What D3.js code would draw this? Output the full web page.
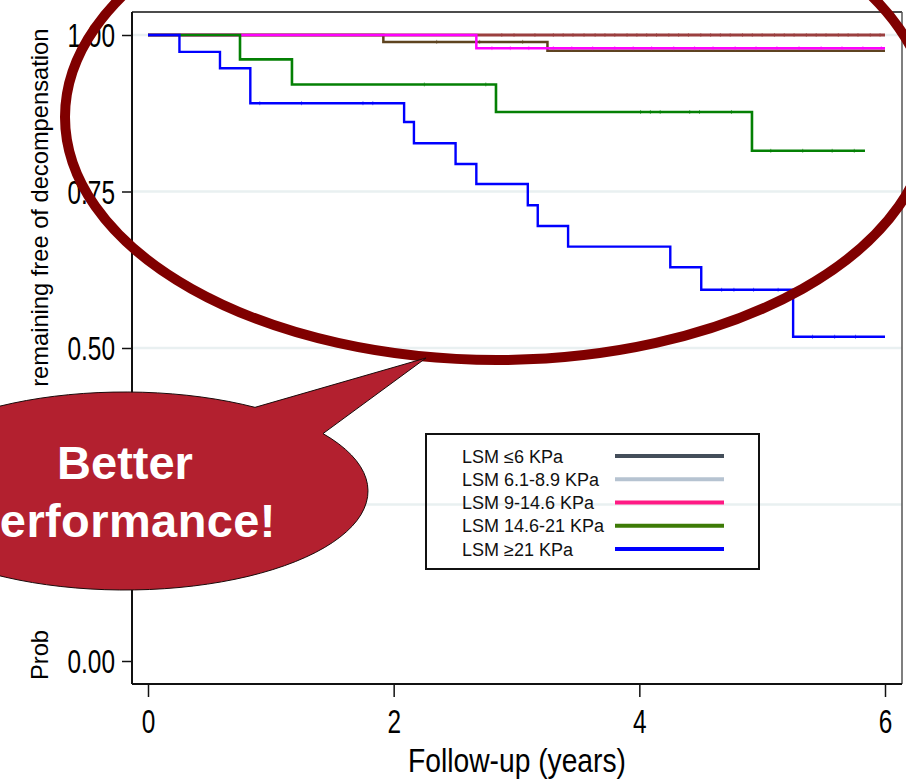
<!DOCTYPE html>
<html>
<head>
<meta charset="utf-8">
<script src="https://cdn.jsdelivr.net/npm/d3@7"></script>
<style>
  html, body { margin: 0; padding: 0; background: #ffffff; }
  svg { display: block; }
</style>
</head>
<body>
<svg id="chart" width="906" height="780"></svg>
<script>
// ---------------- data ----------------
const xTickValues = [0, 2, 4, 6];
const xTickLabels = ["0", "2", "4", "6"];
const yTickValues = [0, 0.25, 0.5, 0.75, 1.0];
const yTickLabels = ["0.00", "0.25", "0.50", "0.75", "1.00"];
const xTitle = "Follow-up (years)";
const yTitleParts = ["Prob", "ability", " remaining free of decompensation"];

// Kaplan–Meier step curves as drawn in the plot (time in years, survival)
const curveRedTimes = [0, 6.0];
const curveRedSurv = [1.0, 1.0];
const curveRedCensor = [2.88, 2.98, 3.15, 3.30, 3.38, 3.46, 3.55, 3.64, 3.72, 3.80, 3.90, 3.98, 4.06, 4.14, 4.24, 4.32, 4.40, 4.50, 4.58, 4.66, 4.74, 4.84, 4.92, 5.00, 5.10, 5.18, 5.26, 5.36, 5.44, 5.52, 5.62, 5.70, 5.78, 5.88, 5.96];

const curveBrownTimes = [0, 1.916, 3.252, 6.0];
const curveBrownSurv = [1.0, 0.989, 0.975, 0.975];
const curveBrownCensor = [2.35, 2.70, 3.05];

const curveMagentaTimes = [0, 2.673, 6.0];
const curveMagentaSurv = [1.0, 0.979, 0.979];
const curveMagentaCensor = [2.80, 2.95, 3.10, 3.30, 3.45, 3.62, 3.80, 3.95, 4.10, 4.28, 4.45, 4.60, 4.78, 4.95, 5.12, 5.30, 5.48, 5.65, 5.82, 5.97];

const curveGreenTimes = [0, 0.749, 1.172, 2.833, 4.917, 5.837];
const curveGreenSurv = [1.0, 0.961, 0.921, 0.877, 0.815, 0.815];
const curveGreenCensor = [2.25, 2.75, 4.01, 4.09, 4.17, 4.41, 4.49, 4.75, 5.07, 5.33, 5.57, 5.75];

const curveBlueTimes = [0, 0.256, 0.586, 0.833, 2.085, 2.165, 2.504, 2.673, 3.092, 3.173, 3.420, 4.252, 4.504, 5.252, 6.0];
const curveBlueSurv = [1.0, 0.973, 0.947, 0.891, 0.861, 0.827, 0.794, 0.762, 0.728, 0.695, 0.662, 0.629, 0.593, 0.518, 0.518];
const curveBlueCensor = [0.91, 1.25, 1.75, 1.83, 4.67, 4.77, 4.93, 5.13, 5.41, 5.59, 5.76];

// legend (as shown in the picture)
const legendLabels = ["LSM \u22646 KPa", "LSM 6.1-8.9 KPa", "LSM 9-14.6 KPa", "LSM 14.6-21 KPa", "LSM \u226521 KPa"];
const legendColors = ["#444e5a", "#b6c3d1", "#ff1a84", "#3d7b06", "#0000ff"];

// annotation
const bubbleLines = ["Better", "Performance!"];

// ---------------- drawing ----------------
const svg = d3.select("#chart");
const W = 906, H = 780;
const frame = {left: 132, top: 12, right: 902, bottom: 684};

const x = d3.scaleLinear().domain([0, 6]).range([148, 885]);
const y = d3.scaleLinear().domain([0, 1]).range([661, 35]);

svg.append("rect").attr("width", W).attr("height", H).attr("fill", "#ffffff");

// gridlines
svg.append("g").selectAll("line")
  .data(yTickValues.filter(v => v > 0))
  .join("line")
  .attr("x1", frame.left).attr("x2", frame.right)
  .attr("y1", d => y(d)).attr("y2", d => y(d))
  .attr("stroke", "#e9f0f1").attr("stroke-width", 2.5);

// frame
svg.append("line").attr("x1", frame.left).attr("x2", frame.right).attr("y1", frame.top).attr("y2", frame.top)
  .attr("stroke", "#111").attr("stroke-width", 1.5);
svg.append("line").attr("x1", frame.right).attr("x2", frame.right).attr("y1", frame.top).attr("y2", frame.bottom)
  .attr("stroke", "#555").attr("stroke-width", 1.5);
svg.append("line").attr("x1", frame.left).attr("x2", frame.right).attr("y1", frame.bottom).attr("y2", frame.bottom)
  .attr("stroke", "#111").attr("stroke-width", 2);
svg.append("line").attr("x1", frame.left).attr("x2", frame.left).attr("y1", frame.top).attr("y2", frame.bottom)
  .attr("stroke", "#111").attr("stroke-width", 2);

// curves
const stepLine = d3.line().x(d => x(d[0])).y(d => y(d[1])).curve(d3.curveStepAfter);
const curves = [
  {t: curveRedTimes, s: curveRedSurv, c: curveRedCensor, color: "#9b3f3f", w: 3},
  {t: curveBrownTimes, s: curveBrownSurv, c: curveBrownCensor, color: "#5e4420", w: 2.5},
  {t: curveMagentaTimes, s: curveMagentaSurv, c: curveMagentaCensor, color: "#ff00ff", w: 2.5},
  {t: curveGreenTimes, s: curveGreenSurv, c: curveGreenCensor, color: "#048004", w: 2.6},
  {t: curveBlueTimes, s: curveBlueSurv, c: curveBlueCensor, color: "#0000ff", w: 2.4}
];
function survAt(cv, t) {
  let v = cv.s[0];
  for (let i = 0; i < cv.t.length; i++) if (cv.t[i] <= t) v = cv.s[i];
  return v;
}
const gCurves = svg.append("g").attr("fill", "none");
curves.forEach(cv => {
  const pts = cv.t.map((t, i) => [t, cv.s[i]]);
  gCurves.append("path").attr("d", stepLine(pts))
    .attr("stroke", cv.color).attr("stroke-width", cv.w)
    .attr("stroke-linejoin", "miter").attr("stroke-linecap", "butt");
  gCurves.append("g").selectAll("line").data(cv.c).join("line")
    .attr("x1", d => x(d)).attr("x2", d => x(d))
    .attr("y1", d => y(survAt(cv, d)) - 2).attr("y2", d => y(survAt(cv, d)) + 2)
    .attr("stroke", cv.color).attr("stroke-width", 0.8).attr("stroke-opacity", 0.7);
});

// axes
const tickFont = "'Liberation Sans', Arial, Helvetica, sans-serif";
const sxTick = 0.74;
const xAxis = d3.axisBottom(x).tickValues(xTickValues).tickFormat((d, i) => xTickLabels[i])
  .tickSize(12).tickPadding(0);
const gx = svg.append("g").attr("transform", `translate(0,${frame.bottom + 1})`).call(xAxis);
gx.select(".domain").remove();
gx.selectAll(".tick line").attr("stroke", "#111").attr("stroke-width", 1.5);
gx.selectAll(".tick text")
  .attr("font-family", tickFont).attr("font-size", 33).attr("fill", "#000")
  .attr("y", 0).attr("dy", 0)
  .attr("transform", `translate(0,48) scale(${sxTick},1)`);

const yAxis = d3.axisLeft(y).tickValues(yTickValues).tickFormat((d, i) => yTickLabels[i])
  .tickSize(9).tickPadding(0);
const gy = svg.append("g").attr("transform", `translate(${frame.left - 1},0)`).call(yAxis);
gy.select(".domain").remove();
gy.selectAll(".tick line").attr("stroke", "#111").attr("stroke-width", 1.5);
gy.selectAll(".tick text")
  .attr("font-family", tickFont).attr("font-size", 33).attr("fill", "#000")
  .attr("x", 0).attr("dy", "0.36em")
  .attr("transform", `translate(-16,0) scale(${sxTick},1)`);

// axis titles
svg.append("text")
  .attr("transform", `translate(517,772) scale(0.83,1)`)
  .attr("text-anchor", "middle")
  .attr("font-family", tickFont).attr("font-size", 34).attr("fill", "#000")
  .text(xTitle);

const yTitle = svg.append("text")
  .attr("transform", "translate(48,680) rotate(-90)")
  .attr("text-anchor", "start")
  .attr("font-family", tickFont).attr("font-size", 23.7).attr("fill", "#000");
const yTitleDx = [0, 166, 10];
yTitleParts.forEach((p, i) => {
  yTitle.append("tspan").attr("dx", yTitleDx[i]).text(p);
});

// legend
const lg = svg.append("g");
lg.append("rect").attr("x", 426).attr("y", 434).attr("width", 333).attr("height", 135)
  .attr("fill", "none").attr("stroke", "#111").attr("stroke-width", 2);
const rowY = d3.scalePoint().domain(legendLabels).range([456, 549]);
legendLabels.forEach((lab, i) => {
  lg.append("text").attr("x", 462).attr("y", rowY(lab) + 6.5)
    .attr("font-family", tickFont).attr("font-size", 18).attr("fill", "#111")
    .text(lab);
  lg.append("line").attr("x1", 615).attr("x2", 724).attr("y1", rowY(lab)).attr("y2", rowY(lab))
    .attr("stroke", legendColors[i]).attr("stroke-width", 4);
});

// annotation ellipse
svg.append("ellipse").attr("cx", 497).attr("cy", 117).attr("rx", 432).attr("ry", 243)
  .attr("fill", "none").attr("stroke", "#800000").attr("stroke-width", 10);

// speech bubble
const bcx = 125, bcy = 491, brx = 243, bry = 99;
function onEllipse(px, sign) {
  const u = (px - bcx) / brx;
  return [px, bcy + sign * bry * Math.sqrt(1 - u * u)];
}
const A = onEllipse(255, -1), B = onEllipse(323, -1), tip = [426, 358];
const bubblePath = `M${A[0]},${A[1]} L${tip[0]},${tip[1]} L${B[0]},${B[1]} A${brx},${bry} 0 1 1 ${A[0]},${A[1]} Z`;
svg.append("path").attr("d", bubblePath)
  .attr("fill", "#b3202f").attr("stroke", "#1a0a0a").attr("stroke-width", 1)
  .attr("stroke-linejoin", "miter");
svg.append("g").selectAll("text").data(bubbleLines).join("text")
  .attr("x", (d, i) => i === 0 ? 125 : 122)
  .attr("y", (d, i) => 479 + i * 58)
  .attr("text-anchor", "middle")
  .attr("letter-spacing", (d, i) => i === 0 ? 0 : 0.4)
  .attr("font-family", tickFont).attr("font-weight", "bold").attr("font-size", 47)
  .attr("fill", "#ffffff")
  .text(d => d);
</script>
</body>
</html>
